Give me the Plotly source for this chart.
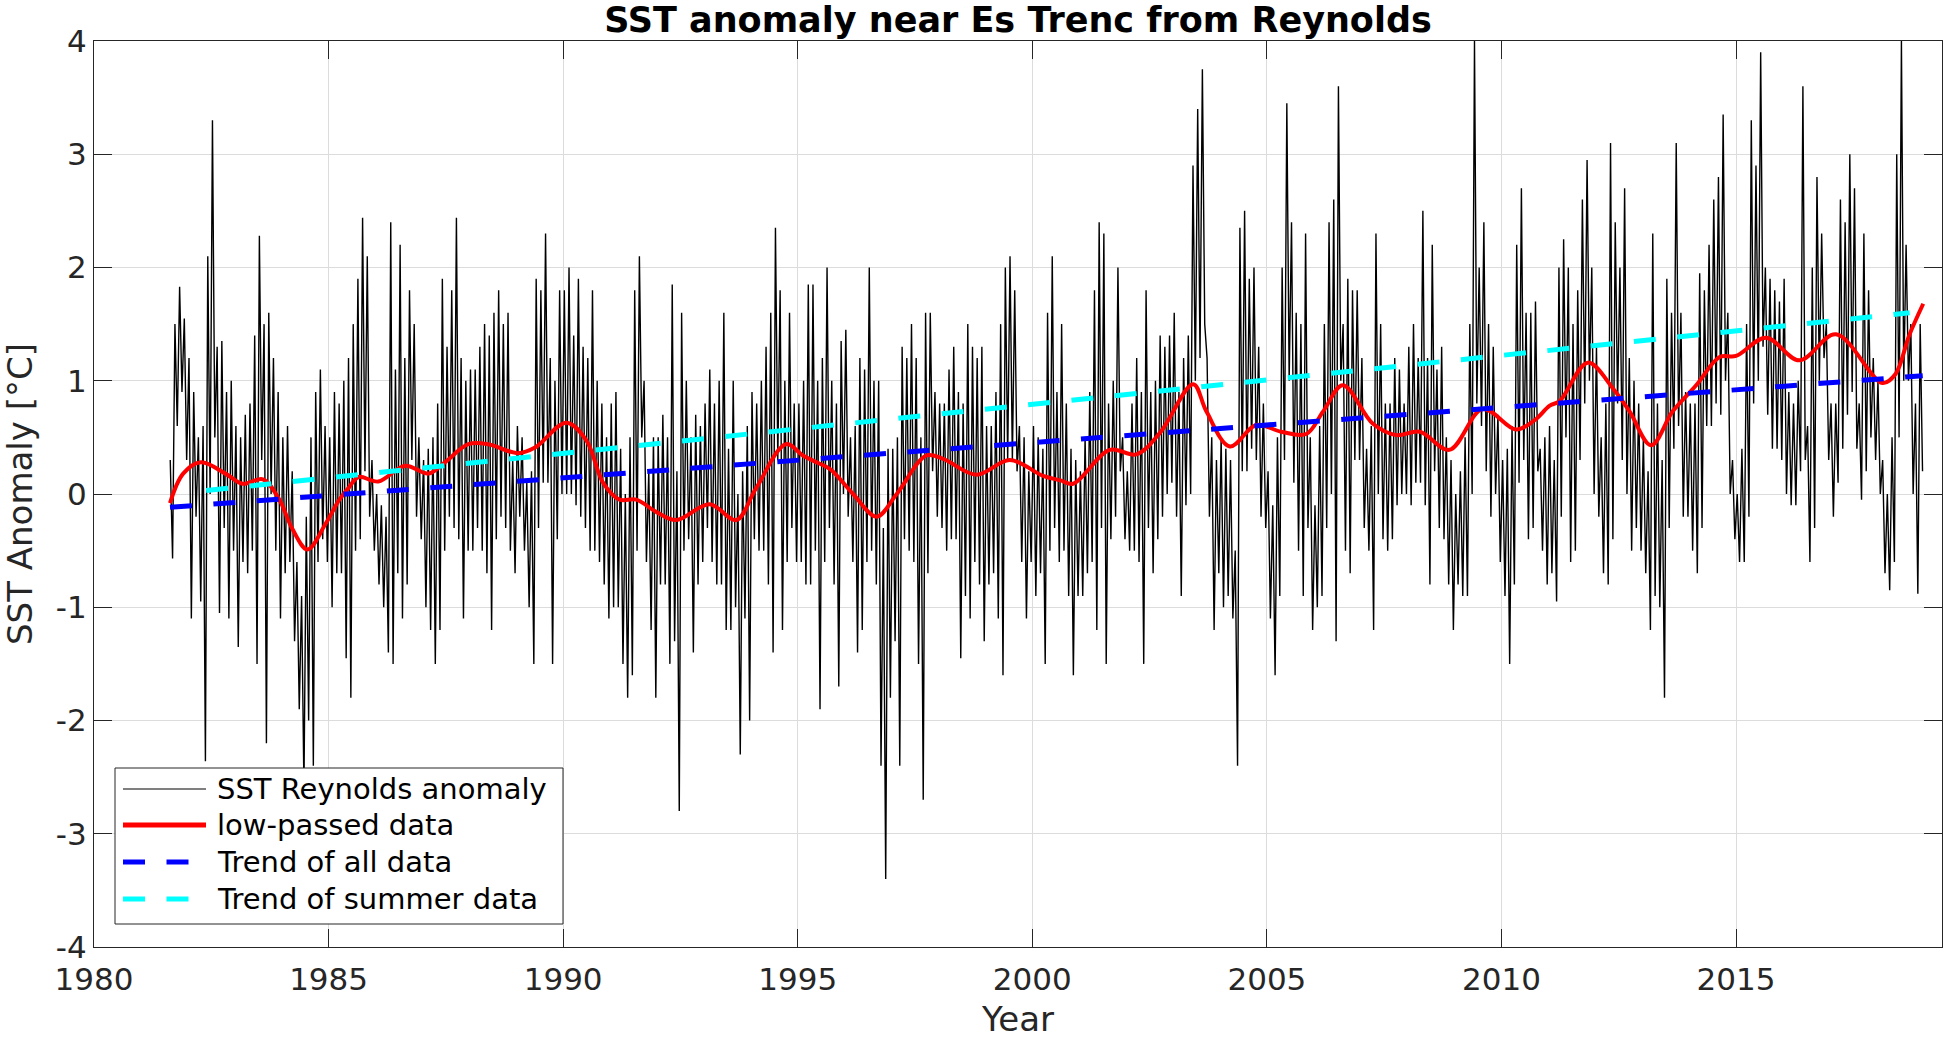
import numpy as np
import plotly.graph_objects as go

# ---------------- data ----------------
# Daily SST anomaly, summarised per 0.1-year bin as upper / lower excursion
anom_start = 1981.625
anom_step = 0.05

hi_1981_1985 = [0.3, 1.5, 1.83, 1.55, 1.2, 0.9, 0.5, 0.6, 2.1, 3.3, 1.3, 1.35, 0.9, 1.0, 0.6, 0.5, 0.7, 0.8,
                1.4, 2.28, 1.5, 1.6, 1.2, 0.9, 0.5, 0.6, 0.2, -0.6, -0.9, -0.2, 0.5, 0.9, 1.1, 0.6, 0.5, 0.9]
lo_1981_1985 = [-0.57, 0.6, 0.9, 0.3, -1.1, -0.2, -0.95, -2.36, 0.0, 0.5, -1.05, -0.3, -1.1, -0.5, -1.35, -0.6,
                -0.7, -0.5, -1.5, 0.3, -2.2, 0.0, -0.5, -1.1, -0.7, -0.6, -1.3, -1.9, -2.6, -2.0, -2.4, -0.6,
                -0.4, -0.6, -1.0, -0.7]

hi_1985_1990 = [0.8, 1.0, 1.2, 1.5, 1.9, 2.44, 2.1, 0.3, 0.0, -0.1, -0.2, 2.4, 1.1, 2.2, 1.2, 1.8, 1.5, 0.5,
                0.3, 0.4, 0.5, 0.8, 1.9, 1.3, 1.8, 2.44, 1.2, 1.0, 1.1, 1.1, 1.3, 1.5, 1.4, 1.6, 1.8, 1.5,
                1.6, 0.3, 0.6, 0.5, 0.1, 0.2, 1.9, 1.8, 2.3, 1.2, 1.0, 1.8]
lo_1985_1990 = [-0.7, -1.45, -1.8, -0.5, -0.4, 0.2, -0.2, -0.5, -0.8, -1.0, -1.4, -1.5, -0.7, -1.1, -0.8, 0.3,
                -0.2, -0.4, -1.0, -1.2, -1.5, -1.2, -0.5, -0.2, -0.3, -0.4, -1.1, -0.5, -0.5, -0.3, -0.5,
                -0.7, -1.2, -0.4, -0.2, -0.3, -0.5, -0.7, -0.2, -0.5, -1.0, -1.5, -0.3, 0.1, 0.1, -1.5,
                -0.4, 0.0]

hi_1990_1995 = [1.8, 2.0, 1.4, 1.9, 1.3, 1.2, 1.8, 1.0, 0.8, 0.5, 0.8, 0.9, 0.4, 0.0, 0.5, 1.8, 2.1, 1.0,
                0.2, 0.5, 0.5, 0.7, 0.5, 1.85, 0.2, 1.6, 1.0, 0.5, 0.7, 0.6, 0.8, 1.1, 0.8, 1.0, 1.6, 0.4,
                1.0, 0.0, 0.2, 0.6, 0.9, 0.8, 1.0, 1.3, 1.6, 2.35, 1.8, 1.0, 1.6, 0.8, 0.8, 1.0, 1.85]
lo_1990_1995 = [0.0, 0.0, -0.1, -0.2, -0.3, -0.5, -0.5, -0.6, -0.8, -1.1, -1.0, -1.0, -1.5, -1.8, -1.6, -0.5,
                0.5, -0.6, -1.2, -1.8, -0.8, -0.8, -1.5, -1.3, -2.8, -0.5, -0.4, -1.4, -0.8, -0.6, -0.3,
                -0.6, -0.8, -0.8, -1.2, -1.2, -1.0, -2.3, -1.1, -2.0, -0.4, -0.5, -0.5, -0.8, -1.4, 0.3,
                -1.2, -0.6, -0.3, -0.6, -0.6, -0.8, -0.8]

hi_1995_2000 = [1.85, 1.0, 1.2, 2.0, 1.0, 0.8, 1.35, 1.45, 0.5, 0.6, 1.2, 1.1, 2.0, 1.0, 1.0, -0.3, 0.4, 0.4,
                0.5, 1.3, 1.2, 1.5, 1.2, 0.5, 1.6, 1.6, 0.9, 0.8, 0.8, 1.1, 1.3, 0.9, 0.8, 1.5, 1.3, 1.2,
                1.3, 0.6, 0.6, 0.9, 1.5, 2.0, 2.1, 1.8, 0.6, 0.5, 0.2, 0.6, 0.5, 0.4, 1.6, 2.1]
lo_1995_2000 = [-0.5, -1.9, -0.6, -0.3, -0.8, -1.7, 0.0, -0.2, -0.6, -1.4, -1.2, -0.6, -0.5, -0.8, -2.4, -3.4,
                -1.8, -1.3, -2.4, -0.4, -0.5, -0.6, -1.5, -2.7, -0.7, 0.2, -0.2, -0.3, -0.5, -0.4, -0.4,
                -1.45, -0.9, -1.1, -0.6, -0.8, -1.3, -0.8, -0.7, -1.1, -1.6, 0.3, 0.3, 0.2, -0.6, -1.1,
                -0.6, -0.9, -0.7, -1.5, -0.5, -0.3]

hi_2000_2005 = [0.9, 1.5, 0.8, 0.4, 0.3, 0.2, 0.5, 0.9, 1.8, 2.4, 2.3, 0.8, 1.0, 2.0, 0.5, 0.2, 0.8, 1.2,
                0.9, 1.8, 0.9, 1.0, 1.4, 1.3, 1.4, 1.6, 0.9, 1.2, 1.4, 2.9, 3.4, 3.75, 1.2, 0.5, 0.3, 0.5,
                0.4, 0.3, -0.5, 2.35, 2.5, 1.9, 2.0, 1.3, 0.8, 0.2, -0.1, 0.5, 2.0, 3.45]
lo_2000_2005 = [-0.6, -0.5, -0.9, -1.6, -0.9, -0.9, -0.7, -0.6, -1.2, -0.3, -1.5, -0.4, -0.2, 0.2, -0.4, -0.5,
                -0.5, -0.6, -1.5, -0.3, -0.7, -0.4, -0.2, 0.0, 0.1, -0.2, -0.9, -0.1, 0.0, 1.0, 1.2, 1.5,
                -0.2, -1.2, -0.7, -1.0, -0.9, -1.1, -2.4, 0.2, 0.2, 0.4, 0.3, -0.2, -0.3, -1.1, -1.6, -0.9,
                0.3, 1.0]

hi_2005_2010 = [2.4, 1.6, 1.5, 2.3, 0.5, -0.1, 0.6, 1.5, 2.4, 2.6, 3.6, 1.5, 1.9, 1.8, 1.8, 1.2, 0.4, 0.6,
                2.3, 1.5, 0.8, 0.8, 1.2, 1.1, 0.8, 1.3, 1.5, 1.2, 2.5, 1.2, 2.2, 1.1, 1.3, 0.5, 0.3, 0.0,
                0.2, 0.5, 1.5, 4.0, 2.0, 2.4, 1.5, 1.3, 0.7, 0.3, 0.4, 0.6, 2.2, 2.7, 1.6]
lo_2005_2010 = [0.1, -0.5, -0.9, -0.3, -1.2, -1.0, -0.9, -0.3, 0.0, -1.3, 1.0, -0.5, -0.7, 0.3, 0.3, -0.3,
                -0.5, -1.2, 0.0, -0.4, -0.5, -0.4, -0.1, 0.0, 0.0, -0.1, 0.1, 0.1, -0.1, -0.8, 0.2, -0.3,
                -0.4, -0.8, -1.2, -0.8, -0.9, -0.9, 0.0, 0.8, 0.6, 0.2, -0.2, 0.0, -0.6, -0.9, -1.5, -0.8,
                0.1, 0.3, -0.4]

hi_2010_2015 = [1.6, 1.7, 0.4, 0.5, 0.6, 0.3, 2.0, 2.25, 2.0, 1.5, 1.8, 2.6, 2.95, 2.0, 1.3, 0.5, 0.8, 3.1,
                2.4, 2.0, 2.7, 1.2, 1.0, 0.8, 0.5, 0.2, 2.3, 0.8, 0.3, 1.9, 1.6, 3.1, 1.6, 0.9, 0.8, 0.8,
                1.95, 1.8, 2.2, 2.6, 2.8, 3.35, 1.6, 0.3, 0.0, 0.4, 1.5, 3.3, 2.9, 3.9, 2.0]
lo_2010_2015 = [-0.3, 0.2, -0.5, -0.8, -0.7, -0.95, -0.2, 0.5, -0.6, -0.5, 0.3, 0.8, 1.0, 0.0, -0.2, -0.7,
                -0.8, -0.4, 0.8, 0.3, 0.0, -0.5, -0.3, -0.5, -0.7, -1.2, -0.9, -1.0, -1.8, -0.3, 0.4, 0.6,
                -0.2, -0.2, -0.5, -0.7, -0.3, 0.6, 0.6, 0.8, 0.7, 1.0, 0.0, -0.4, -0.6, -0.6, -0.2, 0.8,
                1.0, 1.3, 0.7]

hi_2015_2019 = [1.9, 1.8, 1.7, 1.9, 0.9, 0.8, 1.0, 3.6, 0.6, 2.0, 2.8, 2.3, 1.5, 0.8, 0.8, 2.6, 2.4, 3.0,
                2.7, 0.8, 2.3, 1.8, 1.2, 1.0, 0.3, 0.0, 0.5, 3.0, 4.0, 2.2, 1.5, 0.8, 1.5]
lo_2015_2019 = [0.4, 0.4, 0.3, 0.0, -0.1, -0.1, 0.2, 0.3, -0.6, -0.3, 1.0, 1.2, 0.3, -0.2, 0.1, 0.4, 0.7, 0.9,
                0.4, -0.05, 0.2, 0.5, 0.3, 0.0, -0.7, -0.85, -0.6, 0.5, 1.0, 1.0, 0.0, -0.88, 0.2]

# Low-passed series (knots along the red curve)
lowpass_years = [1981.62, 1981.9, 1982.28, 1982.8, 1983.17, 1983.6, 1983.95, 1984.23, 1984.55, 1984.94,
                 1985.23, 1985.42, 1985.64, 1986.06, 1986.63, 1987.13, 1987.48, 1987.98, 1988.4, 1989.04,
                 1989.4, 1990.07, 1990.5, 1990.85, 1991.2, 1991.56, 1991.99, 1992.41, 1993.12, 1993.69,
                 1994.11, 1994.75, 1995.11, 1995.4, 1995.69, 1996.18, 1996.68, 1997.11, 1997.74, 1998.1,
                 1998.81, 1999.52, 2000.23, 2000.6, 2000.87, 2001.65, 2002.22, 2002.72, 2003.43, 2003.71,
                 2004.21, 2004.77, 2005.3, 2005.84, 2006.2, 2006.62, 2007.26, 2007.76, 2008.26, 2008.89,
                 2009.6, 2010.31, 2010.7, 2011.03, 2011.24, 2011.84, 2012.38, 2012.73, 2013.19, 2013.65,
                 2014.15, 2014.65, 2015.0, 2015.64, 2016.35, 2017.13, 2018.12, 2018.4, 2018.69, 2018.99]
lowpass_vals = [-0.08, 0.18, 0.28, 0.18, 0.09, 0.13, -0.05, -0.31, -0.49, -0.26,
                -0.05, 0.05, 0.15, 0.11, 0.25, 0.18, 0.28, 0.44, 0.44, 0.36,
                0.41, 0.63, 0.47, 0.10, -0.05, -0.05, -0.16, -0.23, -0.09, -0.23,
                0.05, 0.44, 0.34, 0.28, 0.22, 0.0, -0.2, 0.0, 0.34, 0.31,
                0.17, 0.30, 0.16, 0.12, 0.09, 0.39, 0.35, 0.54, 0.97, 0.73,
                0.42, 0.61, 0.55, 0.53, 0.73, 0.96, 0.62, 0.52, 0.55, 0.39,
                0.75, 0.57, 0.65, 0.78, 0.82, 1.16, 0.93, 0.73, 0.43, 0.73,
                0.96, 1.21, 1.22, 1.38, 1.18, 1.41, 0.98, 1.06, 1.40, 1.68]

# Linear trends (end points)
trend_all_years = [1981.62, 2018.98]
trend_all_vals = [-0.118, 1.044]
trend_summer_years = [1982.39, 2018.70]
trend_summer_vals = [0.03, 1.60]

x_tickvals = [1980, 1985, 1990, 1995, 2000, 2005, 2010, 2015]
x_ticktext = ["1980", "1985", "1990", "1995", "2000", "2005", "2010", "2015"]
y_tickvals = [-4, -3, -2, -1, 0, 1, 2, 3, 4]
y_ticktext = ["-4", "-3", "-2", "-1", "0", "1", "2", "3", "4"]

legend_labels = ["SST Reynolds anomaly", "low-passed data", "Trend of all data", "Trend of summer data"]

# ---------------- build series ----------------
hi_all = np.concatenate([hi_1981_1985, hi_1985_1990, hi_1990_1995, hi_1995_2000,
                         hi_2000_2005, hi_2005_2010, hi_2010_2015, hi_2015_2019])
lo_all = np.concatenate([lo_1981_1985, lo_1985_1990, lo_1990_1995, lo_1995_2000,
                         lo_2000_2005, lo_2005_2010, lo_2010_2015, lo_2015_2019])
n = min(len(hi_all), len(lo_all))
anom = np.empty(2 * n)
anom[0::2] = hi_all[:n]
anom[1::2] = lo_all[:n]
anom_years = anom_start + anom_step * np.arange(2 * n)

FONT = "DejaVu Sans"
AX = "#262626"
GRID = "#dcdcdc"
DASH = "22px,21.5px"

fig = go.Figure()
fig.add_trace(go.Scatter(x=anom_years, y=anom, mode="lines", name=legend_labels[0],
                         line=dict(color="black", width=1.4)))
fig.add_trace(go.Scatter(x=lowpass_years, y=lowpass_vals, mode="lines", name=legend_labels[1],
                         line=dict(color="#ff0000", width=4, shape="spline", smoothing=1.0)))
fig.add_trace(go.Scatter(x=trend_all_years, y=trend_all_vals, mode="lines", name=legend_labels[2],
                         line=dict(color="#0000ff", width=5, dash=DASH)))
fig.add_trace(go.Scatter(x=trend_summer_years, y=trend_summer_vals, mode="lines", name=legend_labels[3],
                         line=dict(color="#00ffff", width=5, dash=DASH)))

L, R, T, B = 94, 4, 41, 92
W, H = 1946, 1039
pw, ph = W - L - R, H - T - B


def px_x(p):
    return (p - L) / pw


def px_y(p):
    return (H - B - p) / ph


# manual legend (matching MATLAB's long line samples)
shapes = [dict(type="rect", xref="paper", yref="paper", layer="above",
               x0=px_x(115), x1=px_x(563), y0=px_y(924), y1=px_y(768),
               fillcolor="white", line=dict(color=AX, width=1))]
row_y = [789, 825, 862, 899]
styles = [("black", 1.2, "solid", 206), ("#ff0000", 5, "solid", 206),
          ("#0000ff", 5, DASH, 190), ("#00ffff", 5, DASH, 190)]
annotations = []
for lab, ry, (c, w, d, xe) in zip(legend_labels, row_y, styles):
    shapes.append(dict(type="line", xref="paper", yref="paper", layer="above",
                       x0=px_x(123), x1=px_x(xe), y0=px_y(ry), y1=px_y(ry),
                       line=dict(color=c, width=w, dash=d)))
    annotations.append(dict(xref="paper", yref="paper", x=px_x(215), y=px_y(ry),
                            xanchor="left", yanchor="middle", showarrow=False, text=lab,
                            font=dict(family=FONT, size=29, color="black")))

fig.update_layout(
    width=W, height=H,
    margin=dict(l=L, r=R, t=T, b=B, pad=0),
    paper_bgcolor="white", plot_bgcolor="white",
    showlegend=False,
    title=dict(text="<b>SST anomaly near Es Trenc from Reynolds</b>", x=0.5, xref="paper",
               xanchor="center", y=1 - 20 / H, yref="container", yanchor="middle",
               font=dict(family=FONT, size=35, color="black")),
    shapes=shapes, annotations=annotations,
)
axis_common = dict(showline=True, linecolor=AX, linewidth=1.3, mirror="ticks",
                   ticks="inside", ticklen=18, tickwidth=1, tickcolor=AX,
                   showgrid=True, gridcolor=GRID, gridwidth=1, zeroline=False,
                   tickfont=dict(family=FONT, size=31, color=AX))
fig.update_xaxes(range=[1980, 2019.39], tickmode="array", tickvals=x_tickvals, ticktext=x_ticktext,
                 ticklabelstandoff=5,
                 title=dict(text="Year", font=dict(family=FONT, size=34, color=AX), standoff=10),
                 **axis_common)
fig.update_yaxes(range=[-4, 4], tickmode="array", tickvals=y_tickvals, ticktext=y_ticktext,
                 title=dict(text="SST Anomaly [°C]", font=dict(family=FONT, size=34, color=AX), standoff=16),
                 **axis_common)

fig.write_html("out.html", config={"displayModeBar": False},
               post_script="document.body.style.margin='0';document.body.style.overflow='hidden';")
